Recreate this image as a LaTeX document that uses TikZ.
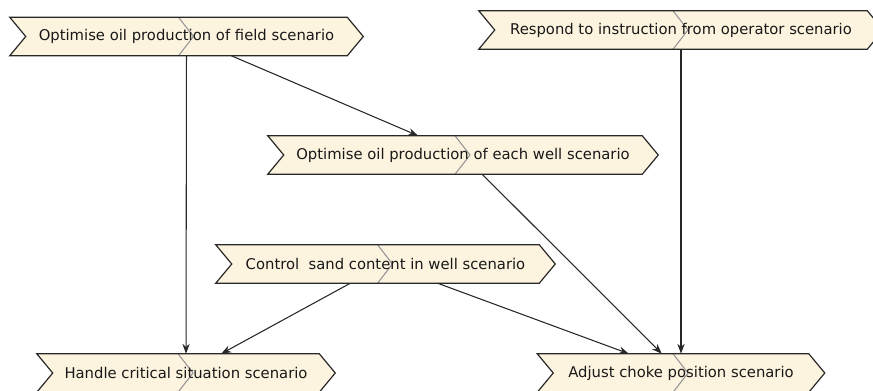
\documentclass[tikz,border=0pt]{standalone}
\usepackage{fontspec}
\setmainfont{DejaVu Sans}
\usetikzlibrary{calc,arrows.meta}
\pgfdeclarelayer{background}
\pgfsetlayers{background,main}
\definecolor{scenfill}{RGB}{253,244,223}
\definecolor{scenline}{RGB}{40,40,40}
\definecolor{scenmark}{RGB}{150,150,150}
\definecolor{scentext}{RGB}{25,25,25}
% one drawing unit
\newdimen\pxu \pxu=0.75pt
\tikzset{
  scen/.style={rectangle, draw=none, inner sep=0pt, minimum height=38\pxu,
    text=scentext, font=\fontsize{11.1pt}{13pt}\selectfont},
  flow/.style={draw=scenline, line width=0.8pt,
    -{Stealth[length=7.5pt,width=5.5pt]}},
}
% chevron outline of a scenario box, with its grey middle mark
\newcommand{\scenchevron}[1]{%
  \fill[scenfill] (#1.north west) -- ($(#1.north east)+(-16,0)$) -- (#1.east)
    -- ($(#1.south east)+(-16,0)$) -- (#1.south west) -- ($(#1.west)+(16,0)$) -- cycle;
  \draw[scenmark, line width=0.8pt] ($(#1.north)+(-8,0)$) -- ($(#1.center)+(7,0)$)
    -- ($(#1.south)+(-8,0)$);
  \draw[scenline, line width=0.9pt, line join=miter] (#1.north west)
    -- ($(#1.north east)+(-16,0)$) -- (#1.east)
    -- ($(#1.south east)+(-16,0)$) -- (#1.south west) -- ($(#1.west)+(16,0)$) -- cycle;
}
\begin{document}
\begin{tikzpicture}[x=0.75pt, y=-0.75pt]
  \useasboundingbox (0,0) rectangle (873,391);

  \node[scen, minimum width=353\pxu] (field)    at (186.5,36.5) {Optimise oil production of field scenario};
  \node[scen, minimum width=404\pxu] (operator) at (681,30)     {Respond to instruction from operator scenario};
  \node[scen, minimum width=390\pxu] (well)     at (463,155)    {Optimise oil production of each well scenario};
  \node[scen, minimum width=339\pxu] (sand)     at (385.5,264)  {Control\ \ sand content in well scenario};
  \node[scen, minimum width=298\pxu] (critical) at (186,373)    {Handle critical situation scenario};
  \node[scen, minimum width=287\pxu] (choke)    at (681,373)    {Adjust choke position scenario};

  \begin{pgfonlayer}{background}
    \foreach \n in {field,operator,well,sand,critical,choke} {\scenchevron{\n}}
  \end{pgfonlayer}

  \draw[flow] (field) -- (critical);
  \draw[flow] (field) -- (well);
  \draw[flow] (operator) -- (choke);
  \draw[flow] (well) -- (choke);
  \draw[flow] (sand) -- (critical);
  \draw[flow] (sand) -- (choke);
\end{tikzpicture}
\end{document}
